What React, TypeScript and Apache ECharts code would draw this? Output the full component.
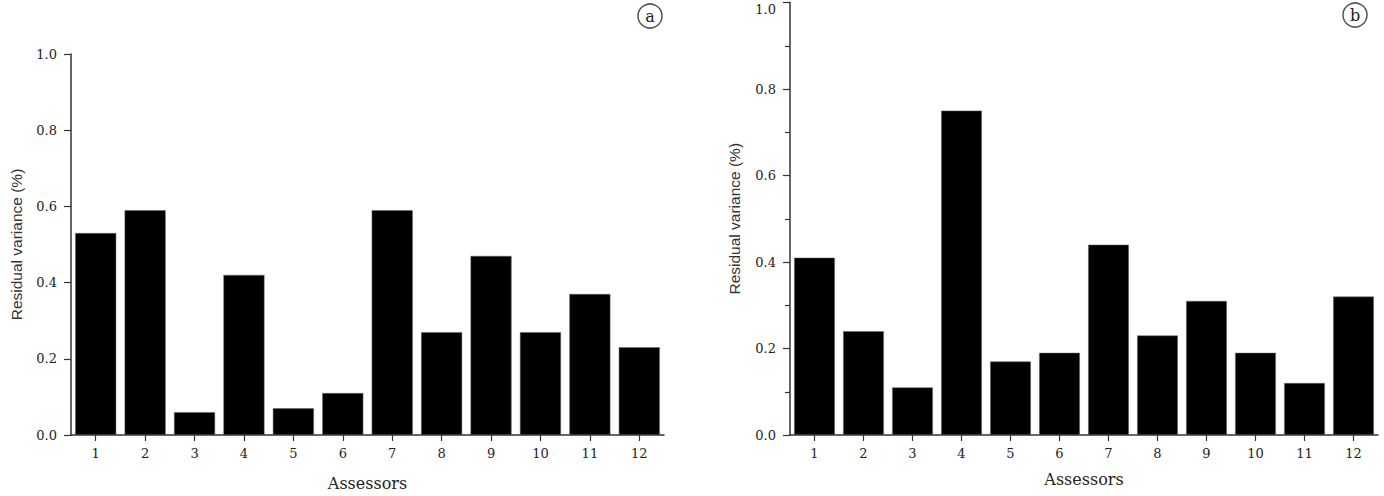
import React, { useEffect, useRef } from "react";
import * as echarts from "echarts";

const assessors = ["1", "2", "3", "4", "5", "6", "7", "8", "9", "10", "11", "12"];
const residualA = [0.53, 0.59, 0.06, 0.42, 0.07, 0.11, 0.59, 0.27, 0.47, 0.27, 0.37, 0.23];
const residualB = [0.41, 0.24, 0.11, 0.75, 0.17, 0.19, 0.44, 0.23, 0.31, 0.19, 0.12, 0.32];
const yTicks = [0, 0.2, 0.4, 0.6, 0.8, 1.0];
const panelLabels = ["a", "b"];

const AXIS_COLOR = "#333";
const TEXT_COLOR = "#222";
const SERIF = "'DejaVu Serif', 'Liberation Serif', serif";
const SANS = "'Liberation Sans', Arial, sans-serif";

export default function App() {
  const ref = useRef<HTMLDivElement>(null);
  useEffect(() => {
    if (!ref.current) return;
    const chart = echarts.init(ref.current, undefined, { renderer: "svg" });
    const xAxisBase = (gridIndex: number, nameGap: number) => ({
      type: "category" as const,
      gridIndex,
      data: assessors,
      boundaryGap: true,
      name: "Assessors",
      nameLocation: "middle" as const,
      nameGap,
      nameTextStyle: { fontFamily: SERIF, fontSize: 16, color: TEXT_COLOR },
      axisLine: { show: true, lineStyle: { color: AXIS_COLOR, width: 1.5 } },
      axisTick: { show: true, alignWithLabel: true, length: 6, lineStyle: { color: AXIS_COLOR, width: 1.2 } },
      axisLabel: { fontFamily: SERIF, fontSize: 13, color: TEXT_COLOR, margin: 12 },
      splitLine: { show: false },
    });
    const yAxisBase = (gridIndex: number, minor: boolean, nameGap: number, topAlign: boolean) => ({
      type: "value" as const,
      gridIndex,
      min: yTicks[0],
      max: yTicks[yTicks.length - 1],
      interval: 0.2,
      name: "Residual variance (%)",
      nameLocation: "middle" as const,
      nameGap,
      nameTextStyle: { fontFamily: SANS, fontSize: 15.5, color: "#333" },
      axisLine: { show: true, lineStyle: { color: AXIS_COLOR, width: 1.5 } },
      axisTick: { show: true, length: 7, lineStyle: { color: AXIS_COLOR, width: 1.2 } },
      minorTick: { show: minor, splitNumber: 2, length: 5, lineStyle: { color: AXIS_COLOR, width: 1.2 } },
      axisLabel: {
        fontFamily: SERIF,
        fontSize: 13,
        color: TEXT_COLOR,
        margin: 14,
        formatter: (v: number) => v.toFixed(1),
        ...(topAlign ? { verticalAlignMaxLabel: "top" } : {}),
      },
      splitLine: { show: false },
    });
    chart.setOption({
      animation: false,
      backgroundColor: "#fff",
      grid: [
        { left: 71, top: 54, width: 593, height: 381, outerBoundsMode: "none", containLabel: false },
        { left: 790, top: 2.5, width: 588, height: 432.5, outerBoundsMode: "none", containLabel: false },
      ],
      xAxis: [xAxisBase(0, 40), xAxisBase(1, 36)],
      yAxis: [yAxisBase(0, false, 47, false), yAxisBase(1, true, 48, true)],
      series: [
        {
          type: "bar",
          xAxisIndex: 0,
          yAxisIndex: 0,
          data: residualA,
          barCategoryGap: "17%",
          itemStyle: { color: "#000", borderColor: "#666", borderWidth: 0.5 },
        },
        {
          type: "bar",
          xAxisIndex: 1,
          yAxisIndex: 1,
          data: residualB,
          barCategoryGap: "17%",
          itemStyle: { color: "#000", borderColor: "#666", borderWidth: 0.5 },
        },
      ],
      graphic: [
        { type: "circle", shape: { cx: 650, cy: 16, r: 12 }, style: { fill: "none", stroke: "#555", lineWidth: 1.5 } },
        {
          type: "text",
          x: 650,
          y: 16,
          style: { text: panelLabels[0], fontFamily: SERIF, fontSize: 16, fill: TEXT_COLOR, align: "center", verticalAlign: "middle" },
        },
        { type: "circle", shape: { cx: 1355, cy: 15, r: 12 }, style: { fill: "none", stroke: "#555", lineWidth: 1.5 } },
        {
          type: "text",
          x: 1355,
          y: 15,
          style: { text: panelLabels[1], fontFamily: SERIF, fontSize: 16, fill: TEXT_COLOR, align: "center", verticalAlign: "middle" },
        },
      ],
    });
    return () => chart.dispose();
  }, []);
  return (
    <div
      ref={ref}
      style={{ position: "absolute", left: 0, top: 0, width: 1384, height: 496, background: "#fff" }}
    />
  );
}
